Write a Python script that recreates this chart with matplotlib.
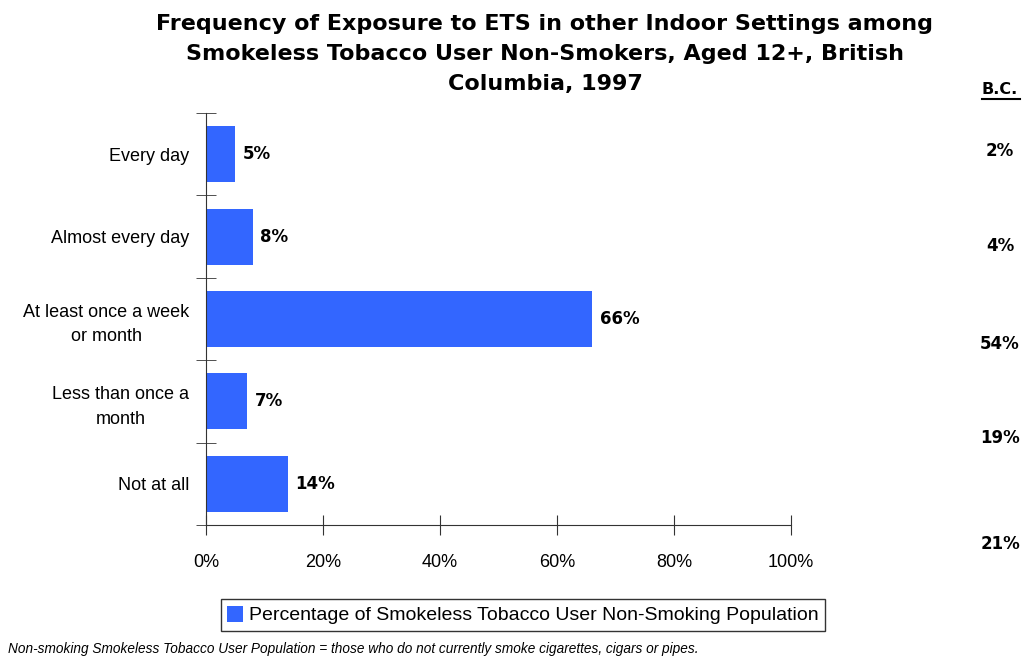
import matplotlib.pyplot as plt
from matplotlib import font_manager

# Data
categories = ["Every day", "Almost every day", "At least once a week\nor month",
              "Less than once a\nmonth", "Not at all"]
values = [5, 8, 66, 7, 14]
bc_values = ["2%", "4%", "54%", "19%", "21%"]
x_ticks = [0, 20, 40, 60, 80, 100]
x_labels = ["0%", "20%", "40%", "60%", "80%", "100%"]

names = {f.name for f in font_manager.fontManager.ttflist}
narrow = "Liberation Sans Narrow" if "Liberation Sans Narrow" in names else "Liberation Sans"

bar_color = "#3366FF"

fig = plt.figure(figsize=(10.23, 6.6), dpi=100)
ax = fig.add_axes([206 / 1023, 1 - 525 / 660, 585 / 1023, 412 / 660])

pos = list(range(len(categories)))
bars = ax.barh(pos, values, height=0.68, color=bar_color, label="Percentage of Smokeless Tobacco User Non-Smoking Population")
ax.set_ylim(len(categories) - 0.5, -0.5)
ax.set_xlim(0, 100)

for b, v in zip(bars, values):
    ax.text(b.get_width() + 1.3, b.get_y() + b.get_height() / 2, f"{v}%",
            va="center", ha="left", fontsize=12, fontweight="bold", family="DejaVu Sans")

# axes styling
for s in ["top", "right"]:
    ax.spines[s].set_visible(False)
ax.spines["left"].set_color("#333333")
ax.spines["bottom"].set_color("#333333")

ax.set_yticks(pos)
ax.set_yticklabels(categories, fontsize=13, family=narrow, multialignment="center",
                   linespacing=1.55)
ax.tick_params(axis="y", length=0, pad=12)
ax.set_yticks([p - 0.5 for p in pos] + [len(categories) - 0.5], minor=True)
ax.tick_params(axis="y", which="minor", direction="inout", length=14, color="#333333")

ax.set_xticks(x_ticks)
ax.set_xticklabels(x_labels, fontsize=13, family=narrow)
ax.tick_params(axis="x", direction="inout", length=14, pad=14, color="#333333")

fig.text(545 / 1023, 1 - 54 / 660,
         "Frequency of Exposure to ETS in other Indoor Settings among\n"
         "Smokeless Tobacco User Non-Smokers, Aged 12+, British\nColumbia, 1997",
         ha="center", va="center", fontsize=16, fontweight="bold", linespacing=1.6)

fig.text(1000 / 1023, 1 - 90 / 660, "B.C.", ha="center", va="center",
         fontsize=11.5, fontweight="bold")
fig.add_artist(plt.Line2D([982 / 1023, 1020 / 1023], [1 - 99 / 660] * 2, color="black", lw=1.5))
for yy, t in zip([151, 246, 344, 438, 544], bc_values):
    fig.text(1000 / 1023, 1 - yy / 660, t, ha="center", va="center",
             fontsize=12, fontweight="bold")

leg = fig.legend(loc="center", bbox_to_anchor=(523 / 1023, 1 - 615 / 660),
                 prop={"family": narrow, "size": 14}, frameon=True, fancybox=False,
                 handlelength=0.8, handleheight=0.9, handletextpad=0.3, borderpad=0.35)
leg.get_frame().set_edgecolor("black")
leg.get_frame().set_linewidth(1.0)

fig.text(8 / 1023, 1 - 649 / 660,
         "Non-smoking Smokeless Tobacco User Population = those who do not currently smoke cigarettes, cigars or pipes.",
         ha="left", va="center", fontsize=9.8, style="italic", family=narrow)

fig.savefig("out.png", dpi=100)
